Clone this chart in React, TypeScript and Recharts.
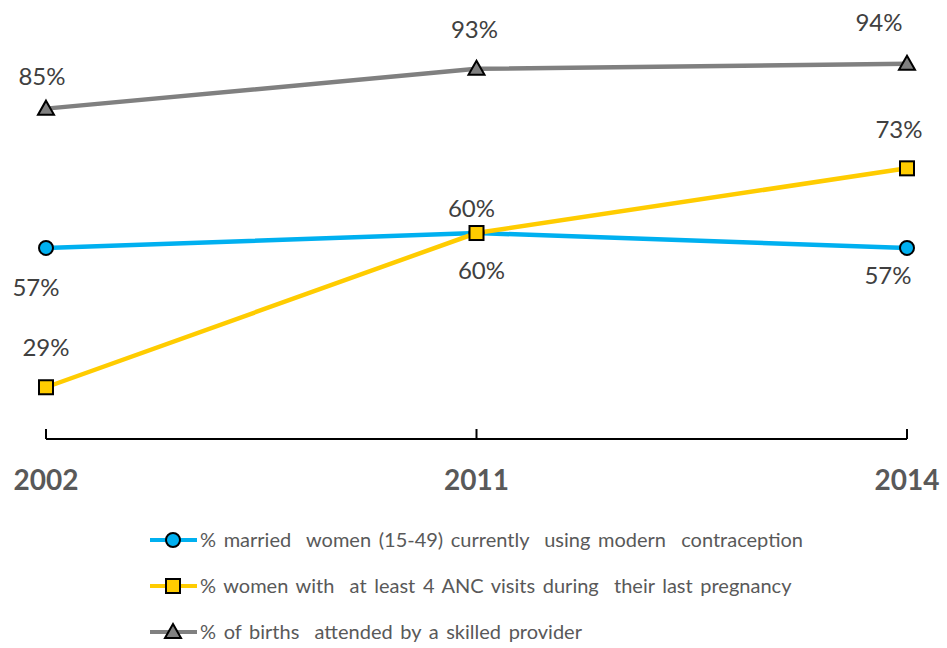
import React from 'react';
import { LineChart, Line, XAxis, YAxis, LabelList } from 'recharts';

const years = ['2002', '2011', '2014'];
const contraception = [57, 60, 57];
const ancVisits = [29, 60, 73];
const skilledBirths = [85, 93, 94];

const seriesNames = [
  '% married  women (15-49) currently  using modern  contraception',
  '% women with  at least 4 ANC visits during  their last pregnancy',
  '% of births  attended by a skilled provider',
];

const data = years.map((year, i) => ({
  year,
  contraception: contraception[i],
  anc: ancVisits[i],
  skilled: skilledBirths[i],
}));

const BLUE = '#00B0F0';
const YELLOW = '#FFCC00';
const GRAY = '#808080';
const FONT = 'Lato, "Open Sans", sans-serif';

type Shape = 'circle' | 'square' | 'triangle';

const Marker = ({ cx, cy, shape, fill }: { cx: number; cy: number; shape: Shape; fill: string }) => {
  if (shape === 'circle') {
    return <circle cx={cx} cy={cy} r={7} fill={fill} stroke="#000" strokeWidth={2} />;
  }
  if (shape === 'square') {
    return <rect x={cx - 7} y={cy - 7} width={14} height={14} fill={fill} stroke="#000" strokeWidth={2} />;
  }
  return (
    <polygon
      points={`${cx},${cy - 8} ${cx + 8},${cy + 6} ${cx - 8},${cy + 6}`}
      fill={fill}
      stroke="#000"
      strokeWidth={2}
      strokeLinejoin="miter"
    />
  );
};

const makeDot = (shape: Shape, fill: string) => (props: any) => {
  const { cx, cy, index } = props;
  return (
    <g key={`${shape}-${index}`}>
      <Marker cx={cx} cy={cy} shape={shape} fill={fill} />
    </g>
  );
};

// label placement, per point: offset from the marker to the text centre
const makeLabel = (dys: number[], dxs: number[]) => (props: any) => {
  const { x, y, value, index } = props;
  return (
    <text
      x={x + (dxs[index] || 0)}
      y={y + (dys[index] || 0) + 8}
      textAnchor="middle"
      fill="#404040"
      fontSize={24}
      fontFamily={FONT}
    >
      {value}%
    </text>
  );
};

const YearTick = (props: any) => {
  const { x, y, payload } = props;
  return (
    <g>
      <line x1={x} y1={y - 10} x2={x} y2={y} stroke="#000" strokeWidth={2} />
      <text
        x={x}
        y={y + 51}
        textAnchor="middle"
        fill="#595959"
        fontSize={28}
        fontWeight="bold"
        fontFamily={FONT}
      >
        {payload.value}
      </text>
    </g>
  );
};

const legendItems: { name: string; color: string; shape: Shape }[] = [
  { name: seriesNames[0], color: BLUE, shape: 'circle' },
  { name: seriesNames[1], color: YELLOW, shape: 'square' },
  { name: seriesNames[2], color: GRAY, shape: 'triangle' },
];

const App = () => {
  return (
    <div style={{ position: 'absolute', left: 0, top: 0, width: 947, height: 648, background: '#fff' }}>
      <LineChart
        width={947}
        height={648}
        data={data}
        margin={{ top: 34, right: 40, bottom: 149, left: 46 }}
      >
        <XAxis
          dataKey="year"
          axisLine={{ stroke: '#000', strokeWidth: 2 }}
          tickLine={false}
          tickSize={0}
          tickMargin={0}
          interval={0}
          height={60}
          tick={<YearTick />}
        />
        <YAxis hide domain={[18.6, 100]} />
        <Line
          dataKey="contraception"
          stroke={BLUE}
          strokeWidth={4.5}
          dot={makeDot('circle', BLUE)}
          activeDot={false}
          isAnimationActive={false}
        >
          <LabelList dataKey="contraception" content={makeLabel([40, 38, 28], [-10, 5, -19])} />
        </Line>
        <Line
          dataKey="anc"
          stroke={YELLOW}
          strokeWidth={4.5}
          dot={makeDot('square', YELLOW)}
          activeDot={false}
          isAnimationActive={false}
        >
          <LabelList dataKey="anc" content={makeLabel([-39, -24, -38], [0, -5, -8])} />
        </Line>
        <Line
          dataKey="skilled"
          stroke={GRAY}
          strokeWidth={4.5}
          dot={makeDot('triangle', GRAY)}
          activeDot={false}
          isAnimationActive={false}
        >
          <LabelList dataKey="skilled" content={makeLabel([-32, -39, -41], [-4, -2, -28])} />
        </Line>
      </LineChart>
      <div style={{ position: 'absolute', left: 150, top: 517 }}>
        {legendItems.map((item) => (
          <div key={item.name} style={{ display: 'flex', alignItems: 'center', height: 46 }}>
            <svg width={50} height={24} style={{ flex: 'none' }}>
              <line x1={0} y1={12} x2={47} y2={12} stroke={item.color} strokeWidth={4} />
              <Marker cx={23} cy={12} shape={item.shape} fill={item.color} />
            </svg>
            <span
              style={{
                fontFamily: FONT,
                fontSize: 20,
                color: '#595959',
                whiteSpace: 'pre',
                wordSpacing: 2.5,
                marginTop: -2,
              }}
            >
              {item.name}
            </span>
          </div>
        ))}
      </div>
    </div>
  );
};

export default App;
